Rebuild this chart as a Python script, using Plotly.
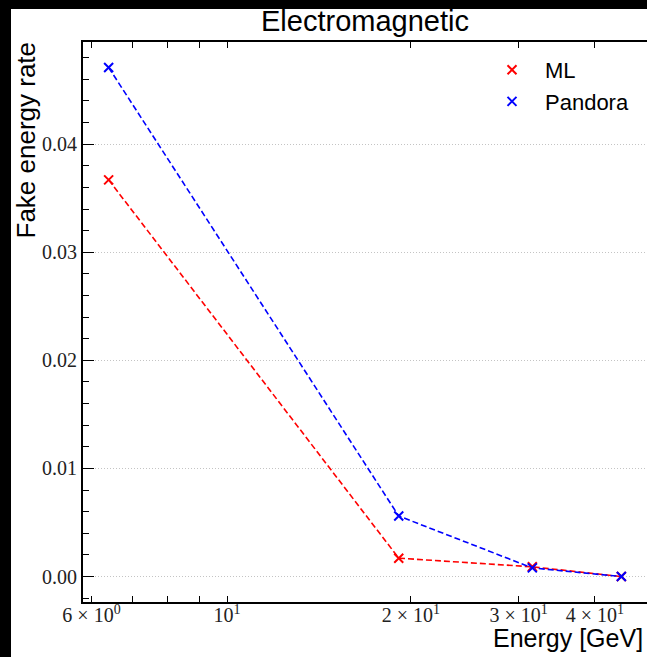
import numpy as np
import plotly.graph_objects as go

# ---- data ----
energy = [6.4, 19.1, 31.6, 44.2]
ml_rate = [0.0367, 0.0017, 0.0009, 0.0]
pandora_rate = [0.0471, 0.0056, 0.0008, 0.0]

x_tickvals = [6, 10, 20, 30, 40]
x_ticktext = ["6 × 10<sup>0</sup>", "10<sup>1</sup>",
              "2 × 10<sup>1</sup>", "3 × 10<sup>1</sup>", "4 × 10<sup>1</sup>"]
x_minor_vals = [7, 8, 9]
y_tickvals = [0.0, 0.01, 0.02, 0.03, 0.04]
y_ticktext = ["0.00", "0.01", "0.02", "0.03", "0.04"]

series = [("ML", ml_rate, "red"), ("Pandora", pandora_rate, "blue")]

# ---- layout geometry ----
W, H = 647, 657
L, R, T, B = 83, 0, 42, 55
pw, ph = W - L - R, H - T - B

def px_x(p):
    return (p - L) / pw

def px_y(p):
    return (H - B - p) / ph

# matplotlib-like 5% margins
lx = np.log10(energy)
xs = lx.max() - lx.min()
xrange_ = [lx.min() - 0.05 * xs, lx.max() + 0.05 * xs]
allv = ml_rate + pandora_rate
ys = max(allv) - min(allv)
yrange_ = [min(allv) - 0.05 * ys, max(allv) + 0.05 * ys]

fig = go.Figure()
for name, vals, col in series:
    fig.add_trace(go.Scatter(
        x=energy, y=vals, mode="lines", showlegend=False,
        line=dict(color=col, width=1.6, dash="6px,3px"), hoverinfo="skip"))
for name, vals, col in series:
    fig.add_trace(go.Scatter(
        x=energy, y=vals, mode="markers", name=name,
        marker=dict(symbol="x-thin", size=9, line=dict(color=col, width=2), color=col)))

sans = "Liberation Sans, Arial, sans-serif"
serif = "Liberation Serif, Times New Roman, serif"
grid_col = "#c4c4c4"
grid_dash = "1px,2px"

fig.update_layout(
    width=W, height=H,
    margin=dict(l=L, r=R, t=T, b=B, pad=0),
    paper_bgcolor="white", plot_bgcolor="white",
    showlegend=True,
    legend=dict(x=px_x(479), y=px_y(49), xanchor="left", yanchor="top",
                font=dict(family=sans, size=22, color="black"),
                bgcolor="rgba(0,0,0,0)", itemwidth=56, tracegroupgap=0),
    xaxis=dict(type="log", range=xrange_, showline=True, linewidth=2, linecolor="black",
               mirror="ticks", ticks="inside", ticklen=6, tickwidth=1, tickcolor="black",
               tickvals=x_tickvals, ticktext=x_ticktext, showgrid=False, zeroline=False,
               ticklabelstandoff=-6,
               minor=dict(tickmode="array", tickvals=x_minor_vals, ticks="inside", ticklen=6,
                          tickcolor="black", showgrid=False),
               tickfont=dict(family=serif, size=20, color="#222")),
    xaxis2=dict(type="log", range=xrange_, overlaying="x", side="bottom", anchor="y",
                showline=False, mirror="ticks", ticks="inside", ticklen=11, tickwidth=1,
                tickcolor="black", tickvals=[10], showticklabels=False,
                showgrid=True, gridcolor=grid_col, griddash=grid_dash, gridwidth=1, zeroline=False),
    yaxis=dict(range=yrange_, showline=True, linewidth=2, linecolor="black", mirror=False,
               ticks="inside", ticklen=11, tickwidth=1, tickcolor="black",
               tickvals=y_tickvals, ticktext=y_ticktext,
               minor=dict(dtick=0.002, ticks="inside", ticklen=6, tickcolor="black", showgrid=False),
               showgrid=True, gridcolor=grid_col, griddash=grid_dash, gridwidth=1, zeroline=False,
               tickfont=dict(family=serif, size=20, color="#222")),
    yaxis2=dict(range=yrange_, overlaying="y", side="right", anchor="x",
                showline=False, ticks="inside", ticklen=11, tickwidth=1, tickcolor="black",
                tickvals=y_tickvals, showticklabels=False,
                minor=dict(dtick=0.002, ticks="inside", ticklen=6, tickcolor="black", showgrid=False),
                showgrid=False, zeroline=False),
    annotations=[
        dict(text="Electromagnetic", xref="paper", yref="paper", x=0.5, y=1.0,
             xanchor="center", yanchor="bottom", yshift=3, showarrow=False,
             font=dict(family=sans, size=29, color="black")),
        dict(text="Fake energy rate", xref="paper", yref="paper", x=px_x(25), y=px_y(40),
             xanchor="center", yanchor="top", textangle=-90, showarrow=False,
             font=dict(family=sans, size=26, color="black")),
        dict(text="Energy [GeV]", xref="paper", yref="paper", x=px_x(645), y=px_y(638),
             xanchor="right", yanchor="middle", showarrow=False,
             font=dict(family=sans, size=25, color="black")),
    ],
    shapes=[
        dict(type="rect", xref="paper", yref="paper", x0=px_x(0), x1=px_x(11),
             y0=px_y(657), y1=px_y(0), fillcolor="black", line=dict(width=0), layer="above"),
        dict(type="rect", xref="paper", yref="paper", x0=px_x(0), x1=px_x(647),
             y0=px_y(9), y1=px_y(0), fillcolor="black", line=dict(width=0), layer="above"),
    ],
)

fig.write_html("out.html", config={"displayModeBar": False},
               post_script="document.body.style.margin='0';document.body.style.overflow='hidden';")
